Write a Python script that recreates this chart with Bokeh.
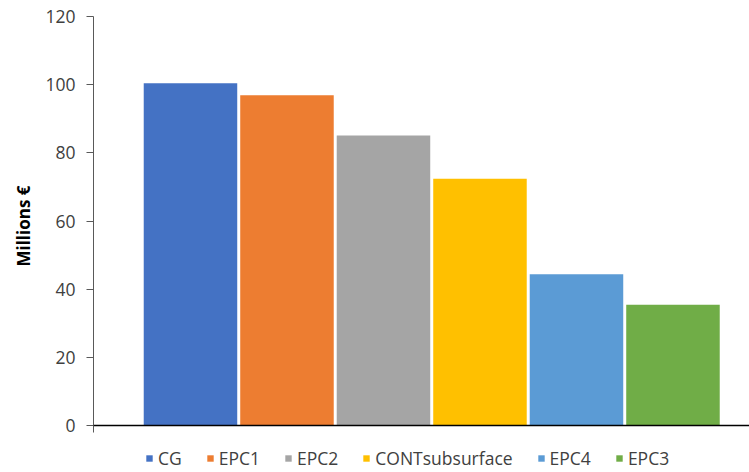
from bokeh.plotting import figure
from bokeh.models import (Range1d, LinearAxis, FixedTicker, Legend, LegendItem,
                          ColumnDataSource, Span, Title)
from bokeh.embed import file_html
from bokeh.resources import INLINE

# Cost per scenario, in millions of euros
scenarios = ["CG", "EPC1", "EPC2", "CONTsubsurface", "EPC4", "EPC3"]
costs = [100.4, 96.9, 85.1, 72.4, 44.4, 35.4]
colors = ["#4472C4", "#ED7D31", "#A5A5A5", "#FFC000", "#5B9BD5", "#70AD47"]
y_ticks = [0, 20, 40, 60, 80, 100, 120]

FONT = "Open Sans"

positions = list(range(len(scenarios)))
source = ColumnDataSource(dict(x=positions, top=costs, color=colors, name=scenarios))

# The frame runs to the bottom edge so the legend can sit under the baseline;
# the value axis itself is bounded to 0..120 (plus a short stub below zero).
x_start = -1.005
px_per_unit = 409 / 120
y_bottom = 120 - 456 / px_per_unit
p = figure(width=749, height=472, output_backend="svg", toolbar_location=None,
           x_range=Range1d(x_start, x_start + 656 / 96.5),
           y_range=Range1d(y_bottom, 120),
           x_axis_type=None, y_axis_type=None,
           min_border_left=93, min_border_right=0,
           min_border_top=16, min_border_bottom=0)
p.outline_line_color = None
p.xgrid.visible = False
p.ygrid.visible = False
p.background_fill_color = "white"
p.border_fill_color = "white"

bars = p.vbar(x="x", top="top", bottom=0, width=0.969, fill_color="color",
              line_color=None, source=source)

# Baseline of the category axis
p.add_layout(Span(location=0, dimension="width", line_color="#000000", line_width=1.5))

# Value axis
yaxis = LinearAxis(ticker=FixedTicker(ticks=y_ticks), bounds=(-7 / px_per_unit, 120))
yaxis.major_label_text_font = FONT
yaxis.major_label_text_font_size = "17.5px"
yaxis.major_label_text_color = "#404040"
yaxis.major_label_standoff = 11
yaxis.major_tick_out = 7
yaxis.major_tick_in = 0
yaxis.minor_tick_out = 0
yaxis.minor_tick_in = 0
yaxis.axis_line_color = "#595959"
yaxis.major_tick_line_color = "#595959"
p.add_layout(yaxis, "left")

# Axis title, placed along the 0..120 span rather than the whole frame
ytitle = Title(text="Millions €", align="right", offset=169, standoff=12,
               vertical_align="top",
               text_font=FONT, text_font_size="17px", text_font_style="bold",
               text_color="#000000")
p.add_layout(ytitle, "left")

legend = Legend(
    items=[LegendItem(label=s, renderers=[bars], index=i) for i, s in enumerate(scenarios)],
    orientation="horizontal",
    location=(52, 2),
    glyph_width=8, glyph_height=8,
    label_standoff=5, spacing=24,
    label_text_font=FONT, label_text_font_size="17.5px",
    label_text_color="#404040", label_height=20,
    padding=0, margin=0,
    border_line_color=None, background_fill_alpha=0,
)
p.add_layout(legend, "center")

open("out.html", "w").write(file_html(p, INLINE))
